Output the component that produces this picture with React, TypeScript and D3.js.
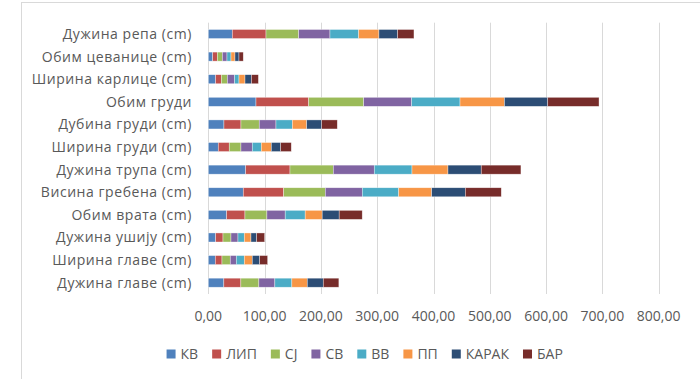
import React, { useEffect, useRef } from "react";
import * as d3 from "d3";

// Measurements, listed from the bottom row of the chart upward
const categories = [
  "Дужина главе (cm)",
  "Ширина главе (cm)",
  "Дужина ушију (cm)",
  "Обим врата (cm)",
  "Висина гребена (cm)",
  "Дужина трупа (cm)",
  "Ширина груди (cm)",
  "Дубина груди (cm)",
  "Обим груди",
  "Ширина карлице (cm)",
  "Обим цеванице (cm)",
  "Дужина репа (cm)",
];

const seriesNames = ["КВ", "ЛИП", "СЈ", "СВ", "ВВ", "ПП", "КАРАК", "БАР"];

const kv = [27.6, 12.4, 13.1, 32.6, 62.1, 66.4, 17.7, 27.8, 84.7, 13.0, 7.8, 42.6];
const lip = [30.2, 11.9, 13.0, 32.5, 71.8, 78.7, 19.5, 30.2, 93.6, 10.1, 8.2, 59.9];
const sj = [32.0, 14.7, 14.2, 39.0, 73.9, 76.9, 20.8, 32.5, 97.7, 10.7, 8.9, 58.0];
const sv = [28.4, 10.7, 12.4, 32.5, 65.7, 72.8, 20.1, 29.7, 85.3, 13.0, 8.3, 55.6];
const vv = [30.2, 14.2, 11.2, 35.5, 64.7, 67.0, 16.0, 29.0, 85.8, 7.7, 7.1, 51.0];
const pp = [27.4, 14.2, 11.9, 30.2, 58.6, 63.9, 17.8, 25.6, 78.9, 10.7, 7.1, 36.0];
const karak = [28.4, 13.1, 10.1, 30.2, 59.7, 59.1, 16.7, 26.6, 76.9, 11.4, 7.1, 33.2];
const bar = [27.7, 14.2, 14.2, 40.9, 63.9, 70.5, 18.8, 27.7, 91.1, 12.4, 7.6, 29.0];

const seriesValues = [kv, lip, sj, sv, vv, pp, karak, bar];

const xTicks = [0, 100, 200, 300, 400, 500, 600, 700, 800];

const colors = ["#4F81BD", "#C0504D", "#9BBB59", "#8064A2", "#4BACC6", "#F79646", "#2C4D75", "#772C2A"];

const W = 700;
const H = 379;
const FONT = "'Open Sans', sans-serif";
const FS = 14;
const TEXT = "#595959";

export default function App() {
  const ref = useRef<SVGSVGElement | null>(null);

  useEffect(() => {
    const svg = d3.select(ref.current);
    svg.selectAll("*").remove();

    // chart frame
    svg
      .append("rect")
      .attr("x", 21.5)
      .attr("y", 2.5)
      .attr("width", 900)
      .attr("height", 600)
      .attr("fill", "#fff")
      .attr("stroke", "#D9D9D9");

    const x = d3.scaleLinear().domain([0, 800]).range([208.3, 658.7]);
    const y = d3
      .scaleBand<string>()
      .domain([...categories].reverse())
      .range([22.7, 294])
      .paddingInner(0.6)
      .paddingOuter(0.3);

    // gridlines
    svg
      .append("g")
      .selectAll("line")
      .data(xTicks)
      .join("line")
      .attr("x1", (d) => Math.round(x(d)) + 0.5)
      .attr("x2", (d) => Math.round(x(d)) + 0.5)
      .attr("y1", 22.7)
      .attr("y2", 294)
      .attr("stroke", "#D9D9D9")
      .attr("stroke-width", 1);

    // stacked bars
    const rows = categories.map((c, i) => {
      const row: Record<string, number | string> = { category: c };
      seriesNames.forEach((s, k) => (row[s] = seriesValues[k][i]));
      return row;
    });
    const stack = d3.stack<Record<string, number | string>>().keys(seriesNames)(rows as any);

    const gBars = svg.append("g");
    stack.forEach((layer, k) => {
      gBars
        .append("g")
        .attr("fill", colors[k])
        .selectAll("rect")
        .data(layer)
        .join("rect")
        .attr("x", (d) => x(d[0]))
        .attr("width", (d) => x(d[1]) - x(d[0]))
        .attr("y", (d) => y(d.data.category as string)!)
        .attr("height", y.bandwidth())
        .attr("stroke", "#ffffff")
        .attr("stroke-opacity", 0.6)
        .attr("stroke-width", 0.6);
    });

    // category labels
    svg
      .append("g")
      .selectAll("text")
      .data(categories)
      .join("text")
      .attr("x", 192)
      .attr("y", (d) => y(d)! + y.bandwidth() / 2)
      .attr("dy", "0.35em")
      .attr("text-anchor", "end")
      .attr("font-family", FONT)
      .attr("font-size", FS)
      .attr("letter-spacing", 0.55)
      .attr("fill", TEXT)
      .text((d) => d);

    // x tick labels
    const fmt = (v: number) => d3.format(".2f")(v).replace(".", ",");
    svg
      .append("g")
      .selectAll("text")
      .data(xTicks)
      .join("text")
      .attr("x", (d) => x(d))
      .attr("y", 316)
      .attr("dy", "0.35em")
      .attr("text-anchor", "middle")
      .attr("font-family", FONT)
      .attr("font-size", FS)
      .attr("fill", TEXT)
      .text((d) => fmt(d));

    // legend
    const legend = svg.append("g");
    const sq = 9;
    const gapSqText = 5;
    const gapItems = 14;
    const items = seriesNames.map((name, k) => {
      const g = legend.append("g");
      g.append("rect").attr("width", sq).attr("height", sq).attr("y", -sq / 2).attr("fill", colors[k]);
      const t = g
        .append("text")
        .attr("x", sq + gapSqText)
        .attr("dy", "0.35em")
        .attr("font-family", FONT)
        .attr("font-size", FS)
        .attr("fill", TEXT)
        .text(name);
      const w = (t.node() as SVGTextElement).getComputedTextLength();
      return { g, width: sq + gapSqText + w };
    });
    const total = d3.sum(items, (d) => d.width) + gapItems * (items.length - 1);
    let cx = 364.7 - total / 2;
    items.forEach((it) => {
      it.g.attr("transform", `translate(${cx},354)`);
      cx += it.width + gapItems;
    });
  }, []);

  return (
    <svg
      ref={ref}
      width={W}
      height={H}
      style={{ position: "absolute", left: 0, top: 0, background: "#fff" }}
    />
  );
}
